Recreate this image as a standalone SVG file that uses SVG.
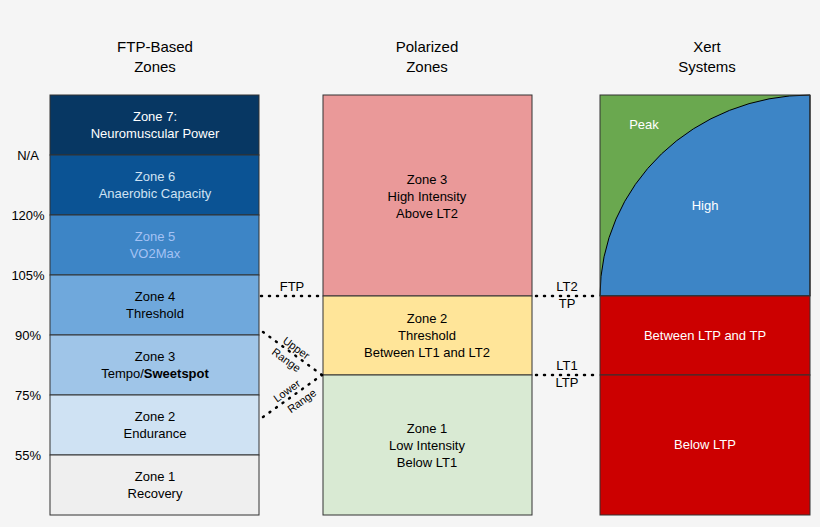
<svg xmlns="http://www.w3.org/2000/svg" width="820" height="527" viewBox="0 0 820 527">
<style>
text{font-family:"Liberation Sans",Arial,sans-serif;font-size:13px;text-anchor:middle}
.h{font-size:15px;fill:#000}
.b{stroke:#333;stroke-width:1}
.d{stroke:#000;stroke-width:2.5;stroke-dasharray:1 7;stroke-linecap:round;fill:none}
.s{font-size:11px}
</style>
<rect width="820" height="527" fill="#f5f5f5"/>
<text class="h" x="155" y="52">FTP-Based</text><text class="h" x="155" y="72">Zones</text>
<text class="h" x="427" y="52">Polarized</text><text class="h" x="427" y="72">Zones</text>
<text class="h" x="707" y="52">Xert</text><text class="h" x="707" y="72">Systems</text>
<g id="pct" font-size="13">
<text x="28" y="160">N/A</text><text x="28" y="220">120%</text><text x="28" y="280">105%</text><text x="28" y="340">90%</text><text x="28" y="400">75%</text><text x="28" y="460">55%</text>
</g>
<g id="z7"><rect class="b" x="50" y="95" width="209" height="60" fill="#073763"/><text x="155" y="121" fill="#fff">Zone 7:</text><text x="155" y="138" fill="#fff">Neuromuscular Power</text></g>
<g id="z6"><rect class="b" x="50" y="155" width="209" height="60" fill="#0b5394"/><text x="155" y="181" fill="#cfe2f3">Zone 6</text><text x="155" y="198" fill="#cfe2f3">Anaerobic Capacity</text></g>
<g id="z5"><rect class="b" x="50" y="215" width="209" height="60" fill="#3d85c6"/><text x="155" y="241" fill="#a4c2f4">Zone 5</text><text x="155" y="258" fill="#a4c2f4">VO2Max</text></g>
<g id="z4"><rect class="b" x="50" y="275" width="209" height="60" fill="#6fa8dc"/><text x="155" y="301">Zone 4</text><text x="155" y="318">Threshold</text></g>
<g id="z3"><rect class="b" x="50" y="335" width="209" height="60" fill="#9fc5e8"/><text x="155" y="361">Zone 3</text><text x="155" y="378">Tempo/<tspan font-weight="bold">Sweetspot</tspan></text></g>
<g id="z2"><rect class="b" x="50" y="395" width="209" height="60" fill="#cfe2f3"/><text x="155" y="421">Zone 2</text><text x="155" y="438">Endurance</text></g>
<g id="z1"><rect class="b" x="50" y="455" width="209" height="60" fill="#efefef"/><text x="155" y="481">Zone 1</text><text x="155" y="498">Recovery</text></g>
<g id="p3"><rect class="b" x="323" y="95" width="209" height="201" fill="#ea9999"/><text x="427" y="184">Zone 3</text><text x="427" y="201">High Intensity</text><text x="427" y="218">Above LT2</text></g>
<g id="p2"><rect class="b" x="323" y="296" width="209" height="79" fill="#ffe599"/><text x="427" y="323">Zone 2</text><text x="427" y="340">Threshold</text><text x="427" y="357">Between LT1 and LT2</text></g>
<g id="p1"><rect class="b" x="323" y="375" width="209" height="140" fill="#d9ead3"/><text x="427" y="433">Zone 1</text><text x="427" y="450">Low Intensity</text><text x="427" y="467">Below LT1</text></g>
<g id="x">
<rect x="600" y="95" width="210" height="201" fill="#6aa84f"/>
<path d="M600,296 A210,201 0 0 1 810,95 L810,296 Z" fill="#3d85c6" stroke="#000" stroke-width="1"/>
<rect class="b" x="600" y="95" width="210" height="201" fill="none"/>
<text x="644" y="129" fill="#fff">Peak</text><text x="705" y="210" fill="#fff">High</text>
<rect class="b" x="600" y="296" width="210" height="79" fill="#cc0000"/><text x="705" y="340" fill="#fff">Between LTP and TP</text>
<rect class="b" x="600" y="375" width="210" height="140" fill="#cc0000"/><text x="705" y="449" fill="#fff">Below LTP</text>
</g>
<g id="connectors">
<line class="d" x1="261" y1="296" x2="318" y2="296"/>
<line class="d" x1="263" y1="332" x2="322" y2="375"/>
<line class="d" x1="263" y1="417" x2="322" y2="375"/>
<line class="d" x1="536" y1="296" x2="598" y2="296"/>
<line class="d" x1="536" y1="375" x2="598" y2="375"/>
</g>
<g id="labels">
<text x="292" y="291">FTP</text>
<text class="s" transform="translate(294,351) rotate(36)">Upper</text><text class="s" transform="translate(284,363) rotate(36)">Range</text>
<text class="s" transform="translate(289,394) rotate(-36)">Lower</text><text class="s" transform="translate(304,404) rotate(-36)">Range</text>
<text x="567" y="291">LT2</text><text x="567" y="308">TP</text>
<text x="567" y="370">LT1</text><text x="567" y="387">LTP</text>
</g>
</svg>
